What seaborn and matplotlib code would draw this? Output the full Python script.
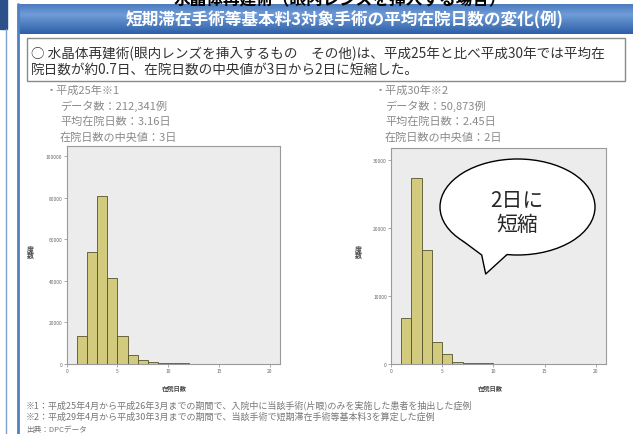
import matplotlib
matplotlib.use('Agg')
import matplotlib.pyplot as plt
import seaborn as sns
import numpy as np
from matplotlib.patches import Ellipse, Rectangle, Polygon
from matplotlib.lines import Line2D

# Data (counts per length-of-stay day)
days_h25 = [1, 2, 3, 4, 5, 6, 7, 8, 9, 10, 11, 12, 13, 14, 15, 16, 17, 18, 19, 20]
counts_h25 = [13700, 54100, 81100, 41300, 13300, 4300, 1900, 1200, 700, 400,
              250, 150, 100, 60, 40, 30, 20, 15, 10, 10]
days_h30 = [1, 2, 3, 4, 5, 6, 7, 8, 9, 10, 11, 12]
counts_h30 = [6800, 27300, 16800, 3300, 1400, 350, 200, 150, 100, 60, 30, 10]

xticks = [0, 5, 10, 15, 20]
yticks_h25 = [0, 20000, 40000, 60000, 80000, 100000]
yticks_h30 = [0, 10000, 20000, 30000]

title = "短期滞在手術等基本料3対象手術の平均在院日数の変化(例)"
top_title = "水晶体再建術（眼内レンズを挿入する場合）"
summary = ["○ 水晶体再建術(眼内レンズを挿入するもの　その他)は、平成25年と比べ平成30年では平均在",
           "院日数が約0.7日、在院日数の中央値が3日から2日に短縮した。"]
info_h25 = ["・平成25年※1", "データ数：212,341例", "平均在院日数：3.16日", "在院日数の中央値：3日"]
info_h30 = ["・平成30年※2", "データ数：50,873例", "平均在院日数：2.45日", "在院日数の中央値：2日"]
notes = ["※1：平成25年4月から平成26年3月までの期間で、入院中に当該手術(片眼)のみを実施した患者を抽出した症例",
         "※2：平成29年4月から平成30年3月までの期間で、当該手術で短期滞在手術等基本料3を算定した症例",
         "出典：DPCデータ"]
callout = "2日に\n短縮"

sns.set_theme(style="white")
plt.rcParams['font.family'] = ['Noto Sans CJK JP', 'DejaVu Sans']

W, H = 633, 435
fig = plt.figure(figsize=(W / 100, H / 100), dpi=100)
fig.patch.set_facecolor('white')


def fx(x):
    return x / W


def fy(y):
    return 1 - y / H


# background decorations (slide frame, blue header)
deco = fig.add_axes([0, 0, 1, 1], zorder=0)
deco.set_xlim(0, W)
deco.set_ylim(H, 0)
deco.axis('off')
deco.add_patch(Rectangle((0, 0), 7, 30, color='#2c5089'))
deco.add_line(Line2D([6, 6], [30, H], color='#7f9fd0', lw=1))
deco.add_line(Line2D([18, 18], [5, H], color='#4f7fc4', lw=2))
grad = np.linspace(0, 1, 64)
grad = np.abs(grad - 0.35)[:, None]
deco.imshow(grad, extent=(18, W, 35, 5), aspect='auto',
            cmap=matplotlib.colors.LinearSegmentedColormap.from_list('bar', ['#6f9cd8', '#2e5fa6']),
            zorder=1)
deco.add_patch(Rectangle((27, 39), 598, 43, fill=False, edgecolor='#8a8a8a', lw=1))
deco.text(340, 9, top_title, fontsize=12, color='black', ha='center', va='bottom',
          fontweight='bold')
deco.text(345, 20, title, fontsize=12, color='white', ha='center', va='center',
          fontweight='bold', zorder=2)
deco.text(31, 54, summary[0], fontsize=9.8, color='#333333', va='center')
deco.text(31, 70, summary[1], fontsize=9.8, color='#333333', va='center')

for i, line in enumerate(info_h25):
    deco.text(46 if i == 0 else 60, 91 + i * 15.5, line, fontsize=8, color='#8a8a8a', va='center')
for i, line in enumerate(info_h30):
    deco.text(375 if i == 0 else 385, 91 + i * 15.5, line, fontsize=8, color='#8a8a8a', va='center')
for i, line in enumerate(notes):
    deco.text(26, 405 + i * 12.5, line, fontsize=6.5 if i < 2 else 5.5, color='#777777', va='center')

bar_fill = '#d2cb7e'
bar_edge = '#55522c'


def draw_hist(rect, days, counts, yticks, ymax):
    ax = fig.add_axes(rect, zorder=2)
    bins = list(days) + [days[-1] + 1]
    sns.histplot(x=days, weights=counts, bins=bins, ax=ax, color=bar_fill,
                 edgecolor=bar_edge, linewidth=0.6, alpha=1)
    ax.set_facecolor('#ececec')
    ax.set_xlim(0, 21)
    ax.set_ylim(0, ymax)
    ax.set_xticks(xticks)
    ax.set_yticks(yticks)
    ax.set_xticklabels([str(t) for t in xticks])
    ax.set_yticklabels([str(t) for t in yticks])
    ax.tick_params(axis='both', labelsize=3.5, labelcolor='#666666', length=2,
                   width=0.5, color='#888888', pad=1, bottom=True, left=True)
    for s in ax.spines.values():
        s.set_color('#9a9a9a')
        s.set_linewidth(0.8)
    ax.set_xlabel('')
    ax.set_ylabel('')
    return ax


ax1 = draw_hist([fx(66.7), fy(365), (280 - 66.7) / W, (365 - 147) / H],
                days_h25, counts_h25, yticks_h25, 105000)
ax2 = draw_hist([fx(391), fy(365), (606 - 391) / W, (365 - 149.3) / H],
                days_h30, counts_h30, yticks_h30, 31700)

for x in (174, 490):
    fig.text(fx(x), fy(388), "在院日数", fontsize=4.5, fontweight='bold', color='#444444',
             ha='center', va='center')
for x in (30, 358):
    fig.text(fx(x), fy(252), "度\n数", fontsize=5, fontweight='bold', color='#444444',
             ha='center', va='center', linespacing=1.0)

# speech bubble
over = fig.add_axes([0, 0, 1, 1], zorder=5)
over.set_xlim(0, W)
over.set_ylim(H, 0)
over.axis('off')
cx, cy, a, b = 517.5, 208, 77.5, 48
over.add_patch(Ellipse((cx, cy), 2 * a, 2 * b, facecolor='white', edgecolor='black', lw=1, zorder=1))
x1, x2 = 463, 507
y1 = cy + b * np.sqrt(1 - ((x1 - cx) / a) ** 2)
y2 = cy + b * np.sqrt(1 - ((x2 - cx) / a) ** 2)
tail = [(x1, y1), (481.7, 256), (485.7, 275), (x2, y2)]
over.add_patch(Polygon(tail + [(x2, y2 - 8), (x1, y1 - 8)], closed=True,
                       facecolor='white', edgecolor='none', zorder=2))
tx, ty = zip(*tail)
over.add_line(Line2D(tx, ty, color='black', lw=1, zorder=3))
over.text(517, 213, callout, fontsize=15, ha='center', va='center', linespacing=1.15, zorder=4)

plt.savefig('out.png', dpi=100)
plt.close()
